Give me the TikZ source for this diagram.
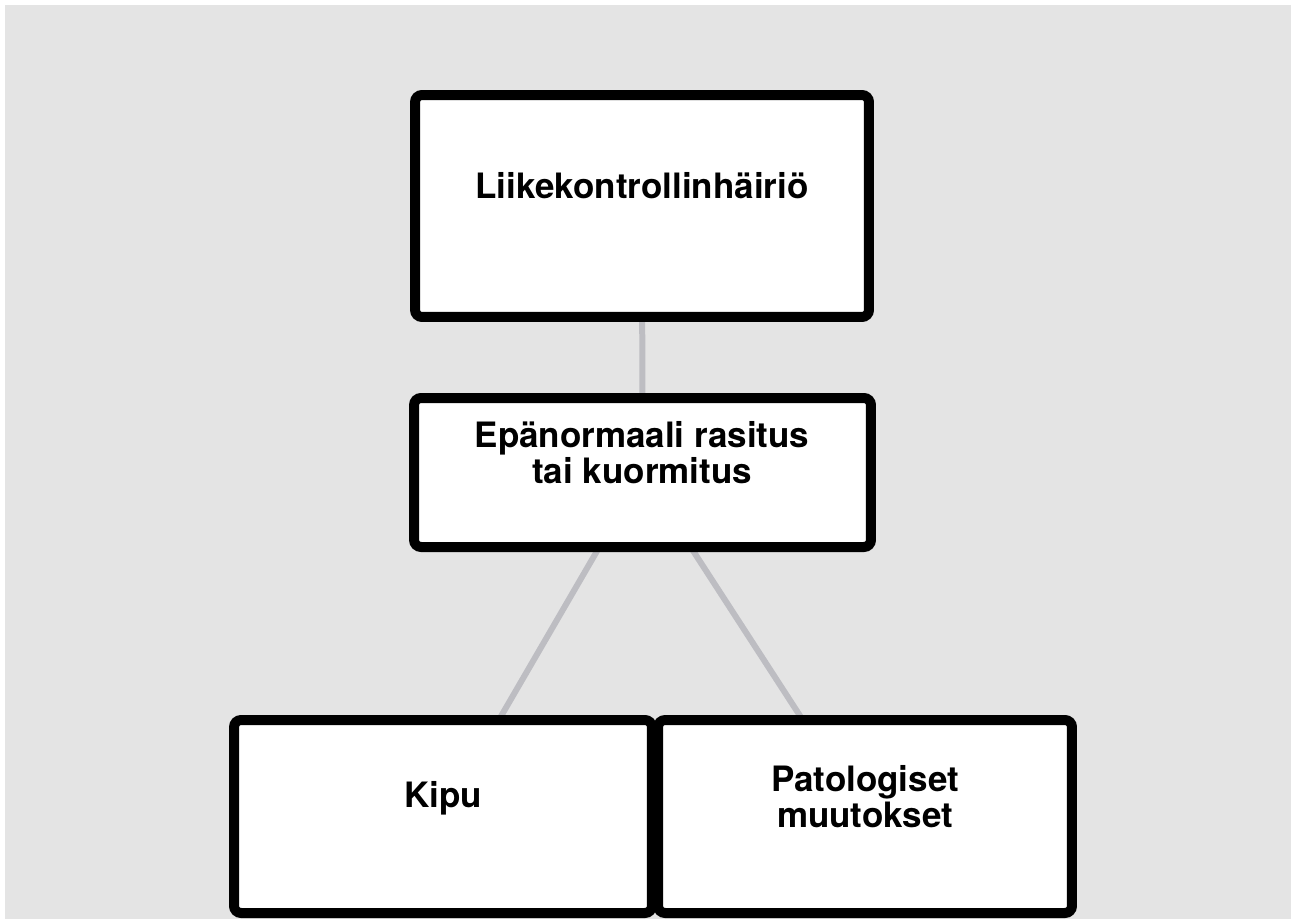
\documentclass[tikz,border=0pt]{standalone}
\usepackage{fontspec}
\setmainfont{TeX Gyre Heros}
\usetikzlibrary{positioning, backgrounds}
\definecolor{bggray}{RGB}{228,228,228}
\definecolor{linkgray}{RGB}{189,189,194}

\begin{document}
\begin{tikzpicture}[x=0.02cm, y=-0.02cm,
  box/.style={rectangle, rounded corners=0.14cm, draw=black, line width=0.2cm,
              fill=white, minimum height=3.86cm},
  txt/.style={font=\fontsize{19.9}{20.3}\selectfont\bfseries, align=center,
              anchor=base, inner sep=0pt},
  link/.style={draw=linkgray, line width=0.12cm, shorten <=-0.2cm, shorten >=-0.2cm}
]
  \useasboundingbox (0,0) rectangle (1291,921);
  \node[box, minimum width=9.08cm, minimum height=4.44cm] (lkh) at (642,206) {};
  \node[box, minimum width=9.14cm, minimum height=2.98cm] (rasitus) at (642.5,472.5) {};
  \node[box, minimum width=8.36cm] (kipu) at (443,816.5) {};
  \node[box, minimum width=8.28cm] (pato) at (865,816.5) {};
  % text sits above the centre of each box
  \node[txt] (lkhT) at (642,198) {Liikekontrollinhäiriö};
  \node[txt] (rasitusT) at (642,483) {Epänormaali rasitus\\tai kuormitus};
  \node[txt] (kipuT) at (443,807) {Kipu};
  \node[txt] (patoT) at (865,827) {Patologiset\\muutokset};
  \begin{scope}[on background layer]
    \fill[white] (0,0) rectangle (1291,921);
    \fill[bggray] (5,5) rectangle (1291,919);
    \draw[link] (lkh) -- (rasitus);
    \draw[link] (rasitus) -- (kipu);
    \draw[link] (rasitus) -- (pato);
  \end{scope}
\end{tikzpicture}
\end{document}
